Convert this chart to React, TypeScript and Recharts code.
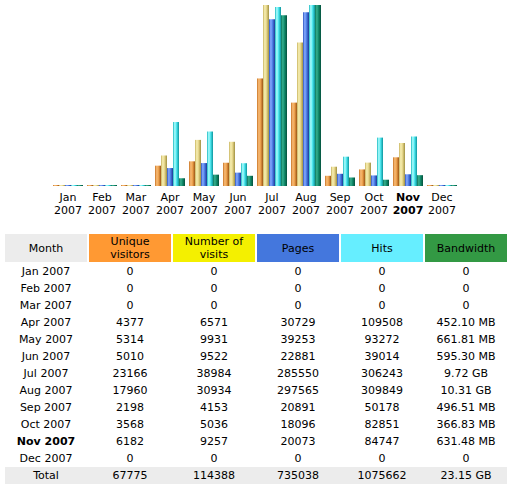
import { BarChart, Bar, XAxis, YAxis } from "recharts";

const months = ["Jan", "Feb", "Mar", "Apr", "May", "Jun", "Jul", "Aug", "Sep", "Oct", "Nov", "Dec"];
const year = "2007";
const currentMonth = "Nov";

const visitors = [0, 0, 0, 4377, 5314, 5010, 23166, 17960, 2198, 3568, 6182, 0];
const visits = [0, 0, 0, 6571, 9931, 9522, 38984, 30934, 4153, 5036, 9257, 0];
const pages = [0, 0, 0, 30729, 39253, 22881, 285550, 297565, 20891, 18096, 20073, 0];
const hits = [0, 0, 0, 109508, 93272, 39014, 306243, 309849, 50178, 82851, 84747, 0];
// bandwidth in MB
const bandwidth = [0, 0, 0, 452.1, 661.81, 595.3, 9953.28, 10557.44, 496.51, 366.83, 631.48, 0];

const totals = [67775, 114388, 735038, 1075662];
const totalBandwidth = 23705.6;

const data = months.map((m, i) => ({
  month: m,
  visitors: visitors[i],
  visits: visits[i],
  pages: pages[i],
  hits: hits[i],
  bandwidth: bandwidth[i],
}));

const FONT = "'DejaVu Sans', Verdana, sans-serif";

const series = [
  { key: "visitors", axis: "v", stops: ["#c87424", "#f8bc78", "#eca04c", "#9c5414"] },
  { key: "visits", axis: "v", stops: ["#c8b460", "#f8f0b4", "#e4d488", "#a09040"] },
  { key: "pages", axis: "h", stops: ["#2c54c0", "#88acff", "#4c7ce4", "#1c3894"] },
  { key: "hits", axis: "h", stops: ["#18b8c0", "#b0ffff", "#48e4ec", "#0c949c"] },
  { key: "bandwidth", axis: "k", stops: ["#0c7458", "#38b090", "#108868", "#04503c"] },
];

const formatBandwidth = (mb: number) => {
  if (mb === 0) return "0";
  if (mb >= 1024) return (mb / 1024).toFixed(2) + " GB";
  return mb.toFixed(2) + " MB";
};

const MonthTick = (props: any) => {
  const { x, y, payload } = props;
  const bold = payload.value === currentMonth;
  return (
    <text
      x={x}
      y={y}
      textAnchor="middle"
      fontFamily={FONT}
      fontSize={11}
      fill="#000"
      fontWeight={bold ? "bold" : "normal"}
    >
      <tspan x={x} dy={7}>{payload.value}</tspan>
      <tspan x={x} dy={13}>{year}</tspan>
    </text>
  );
};

const headers = [
  { label: ["Month"], bg: "#ececec" },
  { label: ["Unique", "visitors"], bg: "#ff9933" },
  { label: ["Number of", "visits"], bg: "#f4f000" },
  { label: ["Pages"], bg: "#4477dd" },
  { label: ["Hits"], bg: "#66eeff" },
  { label: ["Bandwidth"], bg: "#339944" },
];

const COL = 82;
const GAP = 2;

const cellStyle: React.CSSProperties = {
  width: COL,
  textAlign: "center",
  flex: "none",
};

export default function App() {
  return (
    <div
      style={{
        position: "absolute",
        left: 0,
        top: 0,
        width: 520,
        height: 490,
        background: "#fff",
        fontFamily: FONT,
        fontSize: 11,
        color: "#000",
      }}
    >
      <BarChart
        width={520}
        height={220}
        data={data}
        margin={{ top: 5, left: 51, right: 61, bottom: 4 }}
        barCategoryGap={2}
        barGap={0}
      >
        <defs>
          {series.map((s) => (
            <linearGradient key={s.key} id={"g-" + s.key} x1="0" y1="0" x2="1" y2="0">
              <stop offset="0%" stopColor={s.stops[0]} />
              <stop offset="30%" stopColor={s.stops[1]} />
              <stop offset="60%" stopColor={s.stops[2]} />
              <stop offset="100%" stopColor={s.stops[3]} />
            </linearGradient>
          ))}
        </defs>
        <XAxis
          dataKey="month"
          axisLine={false}
          tickLine={false}
          interval={0}
          height={30}
          tick={<MonthTick />}
        />
        <YAxis yAxisId="v" hide domain={[0, "dataMax"]} />
        <YAxis yAxisId="h" hide domain={[0, "dataMax"]} />
        <YAxis yAxisId="k" hide domain={[0, "dataMax"]} />
        {series.map((s) => (
          <Bar
            key={s.key}
            dataKey={s.key}
            yAxisId={s.axis}
            fill={`url(#g-${s.key})`}
            minPointSize={1}
            isAnimationActive={false}
          />
        ))}
      </BarChart>

      <div style={{ position: "absolute", left: 5, top: 234, width: 502 }}>
        <div style={{ display: "flex", gap: GAP, height: 28 }}>
          {headers.map((h, i) => (
            <div
              key={i}
              style={{
                ...cellStyle,
                background: h.bg,
                display: "flex",
                flexDirection: "column",
                justifyContent: "center",
                lineHeight: "13px",
              }}
            >
              {h.label.map((l) => (
                <div key={l}>{l}</div>
              ))}
            </div>
          ))}
        </div>
        <div style={{ height: 1 }} />
        {months.map((m, i) => (
          <div key={m} style={{ display: "flex", gap: GAP, height: 17, lineHeight: "17px" }}>
            <div style={{ ...cellStyle, fontWeight: m === currentMonth ? "bold" : "normal" }}>
              {m} {year}
            </div>
            <div style={cellStyle}>{visitors[i]}</div>
            <div style={cellStyle}>{visits[i]}</div>
            <div style={cellStyle}>{pages[i]}</div>
            <div style={cellStyle}>{hits[i]}</div>
            <div style={cellStyle}>{formatBandwidth(bandwidth[i])}</div>
          </div>
        ))}
        <div
          style={{
            display: "flex",
            gap: GAP,
            height: 17,
            lineHeight: "17px",
            background: "#ececec",
          }}
        >
          <div style={cellStyle}>Total</div>
          {totals.map((t, i) => (
            <div key={i} style={cellStyle}>{t}</div>
          ))}
          <div style={cellStyle}>{formatBandwidth(totalBandwidth)}</div>
        </div>
      </div>
    </div>
  );
}
